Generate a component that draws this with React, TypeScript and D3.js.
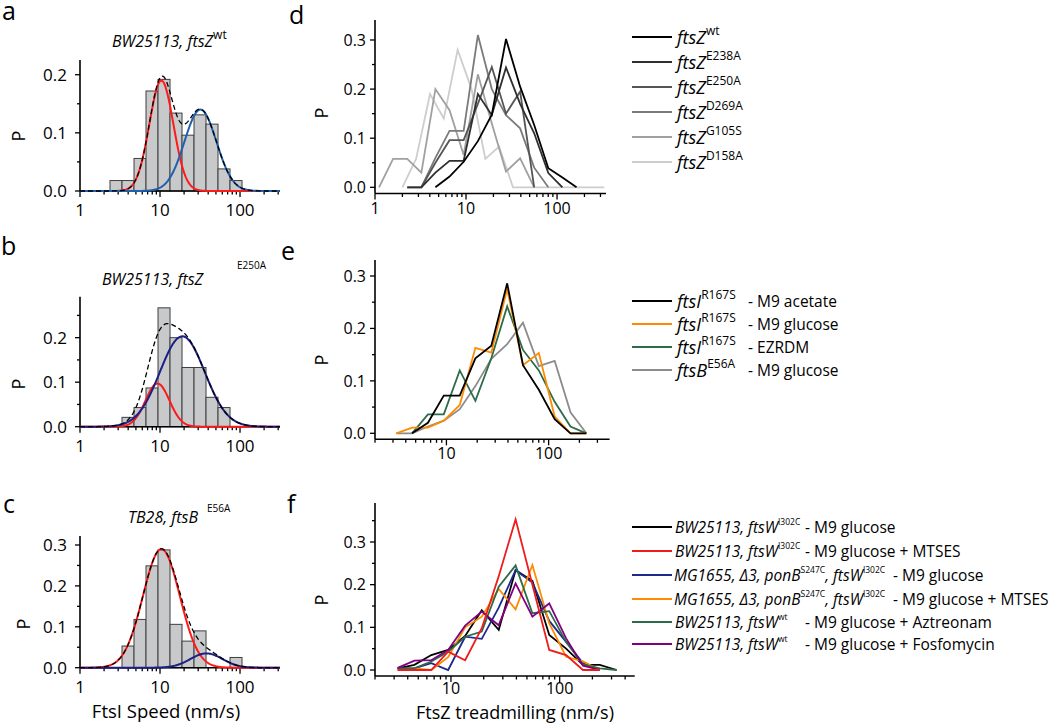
import React from "react";
import * as d3 from "d3";

const FONT = "'Open Sans', 'Noto Sans', sans-serif";

// ---------- Panels a-c : histograms (log-spaced bins) ----------
const histEdges = [2.371, 3.35, 4.732, 6.683, 9.441, 13.34, 18.84, 26.61, 37.58, 53.09, 74.99, 105.9];
const aStart = 0;
const aBars = [0.018, 0.018, 0.056, 0.172, 0.192, 0.134, 0.096, 0.131, 0.115, 0.038, 0.018];
const bStart = 1;
const bBars = [0.021, 0.043, 0.087, 0.267, 0.2, 0.133, 0.133, 0.066, 0.043];
const cStart = 1;
const cBars = [0.053, 0.118, 0.249, 0.288, 0.106, 0.065, 0.09, 0, 0, 0.025];

// Gaussian fit parameters (in log10 space): amplitude, centre (nm/s), sigma (decades)
const aFits = [
  { amp: 0.19, centre: 10.4, sigma: 0.15, color: "#ff1a1a" },
  { amp: 0.14, centre: 32, sigma: 0.2, color: "#1f5fae" },
];
const bFits = [
  { amp: 0.097, centre: 9.3, sigma: 0.15, color: "#ff1a1a" },
  { amp: 0.203, centre: 19, sigma: 0.28, color: "#1c1f85" },
];
const cFits = [
  { amp: 0.29, centre: 10.4, sigma: 0.23, color: "#ff1a1a" },
  { amp: 0.035, centre: 38, sigma: 0.2, color: "#1c1f85" },
];

// ---------- Panels d-f : line histograms ----------
const speedBins = [1.107, 1.58, 2.26, 3.23, 4.61, 6.59, 9.42, 13.5, 19.2, 27.5, 39.3, 56.1, 80.2, 114.6, 163.7, 233.9, 334];
const speedBinsShifted = [2.0, 2.83, 4.02, 5.7, 8.09, 11.5, 16.3, 23.1, 32.8, 330];

type Val = number | null;
const N = null;
// panel d
const dLabels = ["wt", "E238A", "E250A", "D269A", "G105S", "D158A"];
const dColors = ["#000000", "#2f2f2f", "#555555", "#7b7b7b", "#a0a0a0", "#cdcdcd"];
const dWt: Val[] = [N, N, N, N, 0, 0.022, 0.052, 0.094, 0.148, 0.302, 0.205, 0.127, 0.039, 0.02, 0, N, N];
const dE238A: Val[] = [N, N, 0, 0, 0.03, 0.054, 0.054, 0.19, 0.147, 0.244, 0.17, 0.11, 0.029, 0, N, N, N];
const dE250A: Val[] = [N, N, 0, 0, 0.05, 0.096, 0.096, 0.17, 0.245, 0.15, 0.195, 0, N, N, N, N, N];
const dD269A: Val[] = [N, N, N, 0, 0.06, 0.115, 0.115, 0.31, 0.2, 0.147, 0.12, 0.04, 0, N, N, N, N];
const dG105S: Val[] = [0, 0.058, 0.058, 0.03, 0.2, 0.157, 0.066, 0.23, 0.13, 0.032, 0.059, 0, N, N, N, N, N];
const dD158A: Val[] = [0, 0.058, 0.19, 0.14, 0.28, 0.2, 0.058, 0.083, 0, 0];

// panel e
const eLabels = ["M9 acetate", "M9 glucose", "EZRDM", "M9 glucose"];
const eColors = ["#000000", "#ff8c00", "#2e6b48", "#8c8c8c"];
const eAcetate: Val[] = [N, N, N, N, 0, 0.02, 0.072, 0.072, 0.143, 0.167, 0.286, 0.13, 0.083, 0.027, 0, 0, N];
const eGlucose: Val[] = [N, N, N, 0, 0.011, 0.011, 0.024, 0.054, 0.163, 0.154, 0.275, 0.13, 0.153, 0.032, 0, 0, N];
const eEZRDM: Val[] = [N, N, N, N, 0, 0.036, 0.036, 0.12, 0.062, 0.143, 0.242, 0.159, 0.12, 0.06, 0.013, 0, N];
const eFtsB: Val[] = [N, N, N, 0, 0, 0.013, 0.024, 0.046, 0.09, 0.142, 0.17, 0.211, 0.128, 0.138, 0.04, 0, N];

// panel f
const fColors = ["#000000", "#ee1c1c", "#1c2a8e", "#ff8c00", "#2e6b48", "#800080"];
const fGlc: Val[] = [N, N, N, 0.004, 0.012, 0.035, 0.047, 0.08, 0.14, 0.094, 0.234, 0.209, 0.082, 0.05, 0.012, 0.012, 0];
const fMtses: Val[] = [N, N, N, 0, 0, 0, 0.043, 0.023, 0.098, 0.22, 0.353, 0.2, 0.047, 0.035, 0, 0, N];
const fPonB: Val[] = [N, N, N, 0.004, 0.004, 0.016, 0, 0.078, 0.073, 0.146, 0.234, 0.205, 0.115, 0.066, 0.016, 0, N];
const fPonBMtses: Val[] = [N, N, N, 0, 0.004, 0, 0.03, 0.1, 0.125, 0.19, 0.142, 0.246, 0.109, 0.031, 0.02, 0, N];
const fAztreonam: Val[] = [N, N, N, 0.004, 0.004, 0.02, 0.043, 0.078, 0.09, 0.195, 0.245, 0.133, 0.138, 0.066, 0.013, 0.004, 0];
const fFosfomycin: Val[] = [N, N, N, 0.005, 0.022, 0.023, 0.047, 0.104, 0.137, 0.105, 0.203, 0.125, 0.156, 0.074, 0.01, 0, N];

// ---------- helpers ----------
const majorDecades = [1, 10, 100, 1000];
function logTicks(domain: [number, number]) {
  const out: { v: number; major: boolean }[] = [];
  for (const d of majorDecades) {
    for (let m = 1; m <= 9; m++) {
      const v = d * m;
      if (v >= domain[0] * 0.999 && v <= domain[1] * 1.001) out.push({ v, major: m === 1 });
    }
  }
  return out;
}

type AxisProps = {
  x: d3.ScaleLogarithmic<number, number>;
  y: d3.ScaleLinear<number, number>;
  yMajor: number[];
  yMinor: number[];
  xLabelDy: number;
  tickFont: number;
  yLabelGap: number;
};

function Axes({ x, y, yMajor, yMinor, xLabelDy, tickFont, yLabelGap }: AxisProps) {
  const [x0, x1] = x.range();
  const [yb, yt] = y.range();
  const xt = logTicks(x.domain() as [number, number]);
  return (
    <g fontFamily={FONT} fill="#000">
      <line x1={x0} x2={x1} y1={yb} y2={yb} stroke="#000" strokeWidth={1.6} />
      <line x1={x0} x2={x0} y1={yb} y2={yt} stroke="#000" strokeWidth={1.6} />
      {xt.map((t, i) => (
        <line key={"xt" + i} x1={x(t.v)} x2={x(t.v)} y1={yb} y2={yb + (t.major ? 6 : 3.5)} stroke="#000" strokeWidth={1.3} />
      ))}
      {xt.filter((t) => t.major).map((t, i) => (
        <text key={"xl" + i} x={x(t.v)} y={yb + xLabelDy} fontSize={tickFont} textAnchor="middle">
          {String(t.v)}
        </text>
      ))}
      {yMajor.map((v, i) => (
        <g key={"ym" + i}>
          <line x1={x0 - 5} x2={x0} y1={y(v)} y2={y(v)} stroke="#000" strokeWidth={1.3} />
          <text x={x0 - yLabelGap} y={y(v) + tickFont * 0.36} fontSize={tickFont} textAnchor="end">
            {v.toFixed(1)}
          </text>
        </g>
      ))}
      {yMinor.map((v, i) => (
        <line key={"yn" + i} x1={x0 - 3} x2={x0} y1={y(v)} y2={y(v)} stroke="#000" strokeWidth={1.3} />
      ))}
    </g>
  );
}

type Fit = { amp: number; centre: number; sigma: number; color: string };
function fitValue(f: Fit, v: number) {
  const d = Math.log10(v) - Math.log10(f.centre);
  return f.amp * Math.exp(-(d * d) / (2 * f.sigma * f.sigma));
}

function HistPanel({ box, yTop, bars, start, fits, yMajor, yMinor }: any) {
  const x = d3.scaleLog().domain([1, 316]).range([box.x0, box.x1]);
  const y = d3.scaleLinear().domain([0, yTop]).range([box.yb, box.yt]);
  const samples = d3.range(0, 401).map((i) => Math.pow(10, (i / 400) * Math.log10(316)));
  const curve = (fn: (v: number) => number) =>
    d3.line<number>().x((v) => x(v)).y((v) => y(fn(v)))(samples) || "";
  return (
    <g>
      {bars.map((b: number, i: number) =>
        b > 0 ? (
          <rect
            key={i}
            x={x(histEdges[start + i])}
            width={x(histEdges[start + i + 1]) - x(histEdges[start + i])}
            y={y(b)}
            height={y(0) - y(b)}
            fill="#c8c9cb"
            stroke="#3f3f3f"
            strokeWidth={1}
          />
        ) : null
      )}
      <Axes x={x} y={y} yMajor={yMajor} yMinor={yMinor} xLabelDy={25} tickFont={17} yLabelGap={13} />
      {fits.map((f: Fit, i: number) => (
        <path key={i} d={curve((v) => fitValue(f, v))} fill="none" stroke={f.color} strokeWidth={2} />
      ))}
      <path
        d={curve((v) => fits.reduce((s: number, f: Fit) => s + fitValue(f, v), 0))}
        fill="none"
        stroke="#000"
        strokeWidth={1.3}
        strokeDasharray="5,3"
      />
    </g>
  );
}

function LinePanel({ box, xDomain, yDomain, series, yMajor, yMinor, labelDy }: any) {
  const x = d3.scaleLog().domain(xDomain).range([box.x0, box.x1]);
  const y = d3.scaleLinear().domain(yDomain).range([box.yb, box.yt]);
  return (
    <g>
      <Axes x={x} y={y} yMajor={yMajor} yMinor={yMinor} xLabelDy={labelDy} tickFont={16} yLabelGap={9} />
      {series.map((s: any, i: number) => {
        const pts = s.values
          .map((v: Val, j: number) => (v === null ? null : [s.bins[j], v]))
          .filter((p: any) => p !== null) as [number, number][];
        const d = d3
          .line<[number, number]>()
          .x((p) => x(p[0]))
          .y((p) => y(p[1]))(pts);
        return <path key={i} d={d || ""} fill="none" stroke={s.color} strokeWidth={1.8} strokeLinejoin="miter" />;
      })}
    </g>
  );
}

function Sup({ children, size, dy }: any) {
  return (
    <tspan fontSize={size} fontStyle="normal" dy={dy}>
      {children}
    </tspan>
  );
}

export default function App() {
  const dSeries = [
    { values: dD158A, bins: speedBinsShifted, color: dColors[5] },
    { values: dG105S, bins: speedBins, color: dColors[4] },
    { values: dD269A, bins: speedBins, color: dColors[3] },
    { values: dE250A, bins: speedBins, color: dColors[2] },
    { values: dE238A, bins: speedBins, color: dColors[1] },
    { values: dWt, bins: speedBins, color: dColors[0] },
  ];
  const eSeries = [
    { values: eFtsB, bins: speedBins, color: eColors[3] },
    { values: eEZRDM, bins: speedBins, color: eColors[2] },
    { values: eGlucose, bins: speedBins, color: eColors[1] },
    { values: eAcetate, bins: speedBins, color: eColors[0] },
  ];
  const fVals = [fGlc, fMtses, fPonB, fPonBMtses, fAztreonam, fFosfomycin];
  const fSeries = [
    { values: fVals[0], bins: speedBins, color: fColors[0] },
    { values: fVals[2], bins: speedBins, color: fColors[2] },
    { values: fVals[3], bins: speedBins, color: fColors[3] },
    { values: fVals[4], bins: speedBins, color: fColors[4] },
    { values: fVals[5], bins: speedBins, color: fColors[5] },
    { values: fVals[1], bins: speedBins, color: fColors[1] },
  ];

  const dRows = [37, 62, 87, 112, 137, 162];
  const eRows = [301, 324, 347, 370];
  const fRows = [527, 551, 575, 599, 622, 644];

  return (
    <svg width={1050} height={723} style={{ display: "block", position: "absolute", left: 0, top: 0, background: "#fff" }}>
      <rect width={1050} height={723} fill="#fff" />
      <g fontFamily={FONT} fill="#000">
        {/* panel letters */}
        <text x={2} y={20} fontSize={25}>a</text>
        <text x={1} y={255} fontSize={25}>b</text>
        <text x={3} y={513} fontSize={25}>c</text>
        <text x={289} y={24} fontSize={25}>d</text>
        <text x={281} y={260} fontSize={25}>e</text>
        <text x={287} y={513} fontSize={25}>f</text>

        {/* titles */}
        <text x={112} y={47} fontSize={16} fontStyle="italic">
          BW25113, ftsZ<Sup size={12} dy={-8}>wt</Sup>
        </text>
        <text x={102} y={285} fontSize={16} fontStyle="italic">BW25113, ftsZ</text>
        <text x={237} y={269} fontSize={10}>E250A</text>
        <text x={128} y={523} fontSize={16} fontStyle="italic">TB28, ftsB</text>
        <text x={207} y={512} fontSize={10}>E56A</text>

        {/* y titles */}
        <text transform="translate(25,136) rotate(-90)" fontSize={18} textAnchor="middle">P</text>
        <text transform="translate(25,384) rotate(-90)" fontSize={18} textAnchor="middle">P</text>
        <text transform="translate(30,624) rotate(-90)" fontSize={18} textAnchor="middle">P</text>
        <text transform="translate(328,113) rotate(-90)" fontSize={18} textAnchor="middle">P</text>
        <text transform="translate(328,360) rotate(-90)" fontSize={18} textAnchor="middle">P</text>
        <text transform="translate(328,600) rotate(-90)" fontSize={18} textAnchor="middle">P</text>

        {/* x titles */}
        <text x={166} y={718} fontSize={18.5} textAnchor="middle">FtsI Speed (nm/s)</text>
        <text x={515} y={719} fontSize={18} textAnchor="middle">FtsZ treadmilling (nm/s)</text>
      </g>

      <HistPanel box={{ x0: 80, x1: 280, yb: 191, yt: 60 }} yTop={0.2253} bars={aBars} start={aStart} fits={aFits} yMajor={[0, 0.1, 0.2]} yMinor={[0.05, 0.15]} />
      <HistPanel box={{ x0: 80, x1: 280, yb: 426.7, yt: 296.7 }} yTop={0.292} bars={bBars} start={bStart} fits={bFits} yMajor={[0, 0.1, 0.2]} yMinor={[0.05, 0.15, 0.25]} />
      <HistPanel box={{ x0: 80, x1: 280, yb: 667.7, yt: 536 }} yTop={0.322} bars={cBars} start={cStart} fits={cFits} yMajor={[0, 0.1, 0.2, 0.3]} yMinor={[0.05, 0.15, 0.25]} />

      <LinePanel box={{ x0: 375, x1: 606, yb: 193.5, yt: 20 }} xDomain={[1, 345]} yDomain={[-0.0126, 0.3407]} series={dSeries} yMajor={[0, 0.1, 0.2, 0.3]} yMinor={[0.05, 0.15, 0.25]} labelDy={20} />
      <LinePanel box={{ x0: 375, x1: 609.6, yb: 439.3, yt: 260 }} xDomain={[2, 395]} yDomain={[-0.01144, 0.3305]} series={eSeries} yMajor={[0, 0.1, 0.2, 0.3]} yMinor={[0.05, 0.15, 0.25]} labelDy={20} />
      <LinePanel box={{ x0: 375, x1: 634.7, yb: 676, yt: 503 }} xDomain={[2, 490]} yDomain={[-0.01406, 0.3914]} series={fSeries} yMajor={[0, 0.1, 0.2, 0.3]} yMinor={[0.05, 0.15, 0.25, 0.35]} labelDy={18} />

      {/* legend d */}
      <g fontFamily={FONT} fill="#000">
        {dLabels.map((l, i) => (
          <g key={l}>
            <line x1={632} x2={672} y1={dRows[i]} y2={dRows[i]} stroke={dColors[i]} strokeWidth={2} />
            <text x={677} y={dRows[i] + 7} fontSize={18} fontStyle="italic">
              ftsZ<Sup size={12} dy={-9}>{l}</Sup>
            </text>
          </g>
        ))}
      </g>

      {/* legend e */}
      <g fontFamily={FONT} fill="#000">
        {eLabels.map((l, i) => (
          <g key={i}>
            <line x1={632} x2={672} y1={eRows[i]} y2={eRows[i]} stroke={eColors[i]} strokeWidth={2} />
            <text x={677} y={eRows[i] + 7} fontSize={18} fontStyle="italic">
              {i < 3 ? "ftsI" : "ftsB"}
              <Sup size={12} dy={-9}>{i < 3 ? "R167S" : "E56A"}</Sup>
            </text>
            <text x={748} y={eRows[i] + 6} fontSize={15.5}>{"- " + l}</text>
          </g>
        ))}
      </g>

      {/* legend f */}
      <g fontFamily={FONT} fill="#000" fontSize={15.5}>
        {fColors.map((c, i) => (
          <line key={i} x1={632} x2={672} y1={fRows[i]} y2={fRows[i]} stroke={c} strokeWidth={2} />
        ))}
        <text x={675} y={fRows[0] + 6}>
          <tspan fontStyle="italic">BW25113, ftsW</tspan>
          <tspan fontSize={8.5} dy={-8}>I302C</tspan>
        </text>
        <text x={805} y={fRows[0] + 6}>- M9 glucose</text>
        <text x={675} y={fRows[1] + 6}>
          <tspan fontStyle="italic">BW25113, ftsW</tspan>
          <tspan fontSize={8.5} dy={-8}>I302C</tspan>
        </text>
        <text x={805} y={fRows[1] + 6}>- M9 glucose + MTSES</text>
        {[2, 3].map((r) => (
          <g key={r}>
            <text x={674} y={fRows[r] + 6}>
              <tspan fontStyle="italic">MG1655, Δ3, ponB</tspan>
              <tspan fontSize={8.5} dy={-8}>S247C</tspan>
              <tspan fontStyle="italic" dy={8}>, ftsW</tspan>
              <tspan fontSize={8.5} dy={-8}>I302C</tspan>
            </text>
            <text x={893} y={fRows[r] + 6}>{r === 2 ? "- M9 glucose" : "- M9 glucose + MTSES"}</text>
          </g>
        ))}
        <text x={675} y={fRows[4] + 6}>
          <tspan fontStyle="italic">BW25113, ftsW</tspan>
          <tspan fontSize={8.5} dy={-8}>wt</tspan>
        </text>
        <text x={805} y={fRows[4] + 6}>- M9 glucose + Aztreonam</text>
        <text x={675} y={fRows[5] + 6}>
          <tspan fontStyle="italic">BW25113, ftsW</tspan>
          <tspan fontSize={8.5} dy={-8}>wt</tspan>
        </text>
        <text x={805} y={fRows[5] + 6}>- M9 glucose + Fosfomycin</text>
      </g>
    </svg>
  );
}
